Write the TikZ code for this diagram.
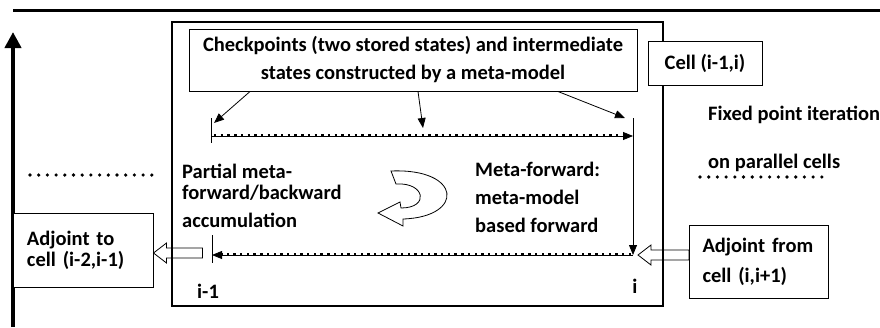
\documentclass[tikz,border=0pt]{standalone}
\usepackage{fontspec}
\setmainfont{Carlito}
\usetikzlibrary{arrows.meta,calc}
\tikzset{
  txt/.style={font=\fontsize{20.5}{28}\selectfont\bfseries, inner sep=0pt, align=left},
  box/.style={draw, line width=1pt, fill=white, inner sep=0pt},
  tip/.style={-{Triangle[length=10pt,width=8pt]}, line width=0.8pt},
  dotline/.style={line width=3.6pt, line cap=round, dash pattern=on 0pt off 8.7pt},
  finedots/.style={line width=3pt, dash pattern=on 2.4pt off 4.3pt}
}
% hollow block arrow: tip, length (pointing left)
\newcommand{\hollowarrow}[2]{
  \draw[line width=0.8pt] #1 -- ++(13,-10) -- ++(0,5) -- ++(#2-13,0) -- ++(0,10)
    -- ++(13-#2,0) -- ++(0,5) -- cycle;
}

\begin{document}
\begin{tikzpicture}[x=1pt,y=-1pt]
  \useasboundingbox (0,0) rectangle (880,327);

  \draw[line width=3pt] (13,10) -- (880,10);% top rule
  \draw[line width=4pt, -{Triangle[length=16pt,width=16pt]}] (13,327) -- (13,32);% time axis

  % cell frame
  \draw[line width=2pt] (172,22) rectangle (663,306);
  \node[box, txt, align=center, minimum width=448pt, minimum height=62pt] (chk) at (413,60)
    {Checkpoints (two stored states) and intermediate\\ states constructed by a meta-model};
  \node[box, txt, minimum width=114pt, minimum height=44pt] (cell) at (705,63) {Cell (i-1,i)};

  % forward and backward sweeps
  \coordinate (f0) at (211,136);
  \coordinate (f1) at (633,136);
  \coordinate (b0) at (212,255);
  \coordinate (b1) at (633,255);
  \draw[line width=0.8pt] (211,118) -- (211,143);
  \draw[line width=0.8pt] (212,235) -- (212,263);
  \draw[tip] (f0) -- (f1);
  \draw[finedots] ([shift={(3pt,1pt)}]f0) -- ([shift={(-9pt,1pt)}]f1);
  \draw[tip] (633,118) -- (b1);
  \draw[tip] (b1) -- (b0);
  \draw[finedots] ([shift={(-2pt,1pt)}]b1) -- ([shift={(10pt,1pt)}]b0);

  \draw[tip] ([xshift=-163pt]chk.south) -- (214,123);
  \draw[tip] ([xshift=5pt]chk.south) -- (423,128);
  \draw[tip] ([xshift=145pt]chk.south) -- (625,118);

  \node[txt, anchor=base west] (part) at (182,227)
    {Partial meta-\\[-7pt]forward/backward\\accumulation};
  \node[txt, anchor=base west] (meta) at (475,232)
    {Meta-forward:\\meta-model\\based forward};
  \node[txt, anchor=base west] (im1) at (197,298) {i-1};
  \node[txt, anchor=base] (i) at (635,293) {i};

  % loop arrow
  \draw[line width=0.8pt] (391,171) -- (396,184) .. controls (425,182) and (430,208) .. (401,208)
    -- (400,202) -- (378,213) -- (403,226) -- (403,219)
    .. controls (465,217) and (462,168) .. (391,171) -- cycle;

  % neighbouring cells
  \node[box, txt, text width=112pt, inner xsep=14pt, minimum height=74pt] (adjto) at (83,250)
    {Adjoint to\\[-7pt]cell (i-2,i-1)};
  \node[box, txt, text width=113pt, inner xsep=13pt, minimum height=73pt] (adjfrom) at (759,261.5)
    {Adjoint from\\[2pt]cell (i,i+1)};
  \hollowarrow{(adjto.east |- 0,253)}{49}
  \hollowarrow{([xshift=5pt]b1)}{51}

  \node[txt, anchor=base west] (fix) at (708,168) {Fixed point iteration\\[20pt]on parallel cells};
  \draw[dotline] (30,175) -- (158,175);
  \draw[dotline] (700,177) -- (828,177);
\end{tikzpicture}
\end{document}
